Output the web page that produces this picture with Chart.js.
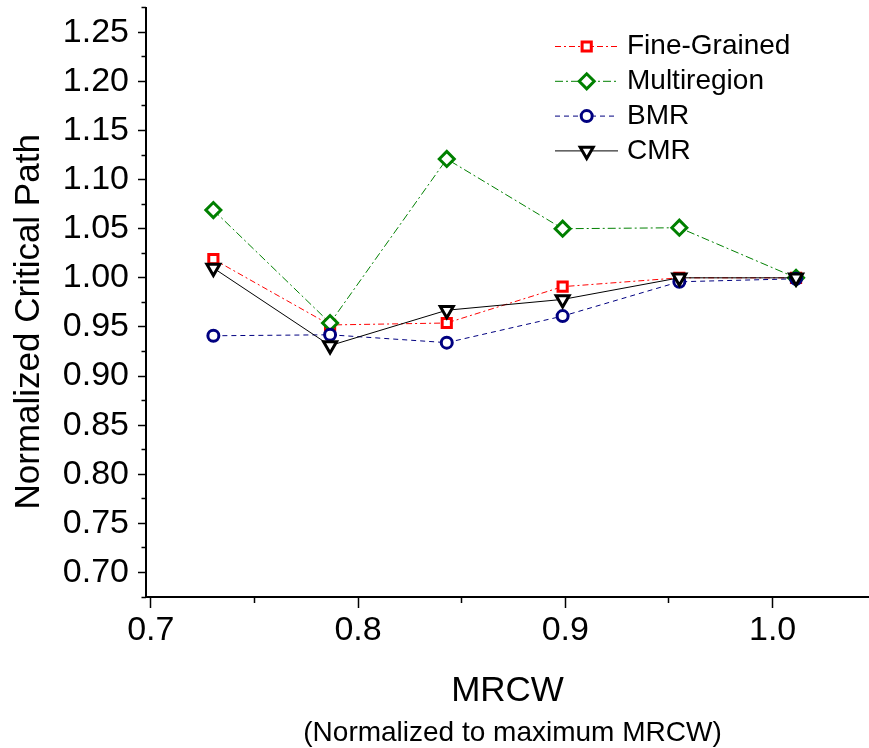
<!DOCTYPE html>
<html lang="en">
<head>
    <meta charset="UTF-8">
    <title>Normalized Critical Path vs MRCW</title>
    <script src="https://cdn.jsdelivr.net/npm/chart.js@4/dist/chart.umd.min.js"></script>
    <style>
        html, body { margin: 0; padding: 0; background: #fff; }
        #wrap { position: relative; width: 869px; height: 748px; }
    </style>
</head>
<body>
<div id="wrap"><canvas id="chart"></canvas></div>
<script>
// values
const mrcw        = [0.7302, 0.7865, 0.8428, 0.8987, 0.9550, 1.0113];
const fineGrained = [1.019, 0.952, 0.954, 0.991, 1.000, 1.000];
const multiregion = [1.069, 0.954, 1.121, 1.050, 1.051, 1.000];
const bmr         = [0.941, 0.942, 0.934, 0.961, 0.996, 0.999];
const cmr         = [1.010, 0.931, 0.967, 0.978, 1.000, 1.000];

const seriesNames = ['Fine-Grained', 'Multiregion', 'BMR', 'CMR'];

const xMajorTicks = [0.7, 0.8, 0.9, 1.0];
const xMinorTicks = [0.75, 0.85, 0.95];
const yMajorTicks = [0.70, 0.75, 0.80, 0.85, 0.90, 0.95, 1.00, 1.05, 1.10, 1.15, 1.20, 1.25];
const yMinorTicks = [0.675, 0.725, 0.775, 0.825, 0.875, 0.925, 0.975, 1.025, 1.075, 1.125, 1.175, 1.225, 1.275];

const FONT = "'Liberation Sans', Arial, sans-serif";
const X_MIN = 0.6977, X_MAX = 1.0465;
const Y_MIN = 0.675, Y_MAX = 1.275;

function pairs(ys) {
    return ys.map((y, i) => ({ x: mrcw[i], y: y }));
}

function series(label, ys, color, dash, style, radius, order, rotation) {
    return {
        label: label,
        data: pairs(ys),
        borderColor: color,
        borderWidth: 1,
        borderDash: dash,
        tension: 0,
        fill: false,
        pointStyle: style,
        pointRadius: radius,
        pointHoverRadius: radius,
        pointRotation: rotation || 0,
        pointBorderWidth: 3,
        pointBorderColor: color,
        pointBackgroundColor: '#fff',
        order: order
    };
}

const datasets = [
    series(seriesNames[0], fineGrained, '#ff0000', [6, 3, 2, 3], 'rect', 6.5, 4),
    series(seriesNames[1], multiregion, '#008000', [8, 3, 2, 3], 'rectRot', 7.5, 3),
    series(seriesNames[2], bmr, '#000080', [5, 4], 'circle', 5.5, 2),
    series(seriesNames[3], cmr, '#000000', [], 'triangle', 7.5, 1, 180)
];

const setTicks = list => scale => { scale.ticks = list.map(v => ({ value: v })); };

// legend drawn with line sample + marker, like the original
const lineLegend = {
    id: 'lineLegend',
    afterDraw(chart) {
        const ctx = chart.ctx;
        chart.data.datasets.forEach((ds, i) => {
            const y = 46.5 + i * 34.8;
            ctx.save();
            ctx.strokeStyle = ds.borderColor;
            ctx.lineWidth = ds.borderWidth;
            ctx.setLineDash(ds.borderDash);
            ctx.beginPath();
            ctx.moveTo(555, y);
            ctx.lineTo(618, y);
            ctx.stroke();
            ctx.setLineDash([]);
            ctx.fillStyle = '#fff';
            ctx.lineWidth = ds.pointBorderWidth;
            Chart.helpers.drawPoint(ctx, {
                pointStyle: ds.pointStyle,
                radius: ds.pointRadius,
                rotation: ds.pointRotation,
                borderWidth: ds.pointBorderWidth
            }, 586.7, y);
            ctx.fillStyle = '#000';
            ctx.font = '28px ' + FONT;
            ctx.textAlign = 'left';
            ctx.textBaseline = 'middle';
            ctx.fillText(ds.label, 627, y);
            ctx.restore();
        });
    }
};

// second line of the x axis title, in a smaller font
const xSubtitle = {
    id: 'xSubtitle',
    afterDraw(chart) {
        const ctx = chart.ctx;
        const sx = chart.scales.x;
        ctx.save();
        ctx.fillStyle = '#000';
        ctx.font = '28px ' + FONT;
        ctx.textAlign = 'center';
        ctx.textBaseline = 'alphabetic';
        ctx.fillText('(Normalized to maximum MRCW)', (sx.left + sx.right) / 2 + 5, 741);
        ctx.restore();
    }
};

new Chart(document.getElementById('chart').getContext('2d'), {
    type: 'line',
    data: { datasets: datasets },
    plugins: [lineLegend, xSubtitle],
    options: {
        responsive: true,
        maintainAspectRatio: false,
        animation: false,
        layout: { autoPadding: false, padding: { top: 7.75, left: 0, right: 0, bottom: 0 } },
        plugins: {
            legend: { display: false },
            tooltip: { enabled: false }
        },
        scales: {
            x: {
                type: 'linear',
                position: 'bottom',
                weight: 1,
                min: X_MIN,
                max: X_MAX,
                afterBuildTicks: setTicks(xMajorTicks),
                ticks: {
                    autoSkip: false,
                    maxRotation: 0,
                    padding: 2,
                    color: '#000',
                    font: { family: FONT, size: 34 },
                    callback: v => v.toFixed(1)
                },
                grid: { drawOnChartArea: false, drawTicks: true, tickLength: 11, tickWidth: 1.5, tickColor: '#000' },
                border: { display: true, color: '#000', width: 2 },
                title: {
                    display: true,
                    text: 'MRCW',
                    color: '#000',
                    font: { family: FONT, size: 35 },
                    padding: { top: 0, bottom: 36 }
                },
                afterFit: s => { s.height = 151; s.paddingLeft = 0; s.paddingRight = 0; }
            },
            xMinor: {
                type: 'linear',
                axis: 'x',
                position: 'bottom',
                weight: 0,
                min: X_MIN,
                max: X_MAX,
                afterBuildTicks: setTicks(xMinorTicks),
                ticks: { display: false, autoSkip: false },
                grid: { drawOnChartArea: false, drawTicks: true, tickLength: 6, tickWidth: 1.5, tickColor: '#000' },
                border: { display: false },
                afterFit: s => { s.height = 0; s.paddingLeft = 0; s.paddingRight = 0; }
            },
            y: {
                type: 'linear',
                position: 'left',
                weight: 1,
                min: Y_MIN,
                max: Y_MAX,
                afterBuildTicks: setTicks(yMajorTicks),
                ticks: {
                    autoSkip: false,
                    padding: 9,
                    color: '#000',
                    font: { family: FONT, size: 34 },
                    callback: v => v.toFixed(2)
                },
                grid: { drawOnChartArea: false, drawTicks: true, tickLength: 8, tickWidth: 1.5, tickColor: '#000' },
                border: { display: true, color: '#000', width: 2 },
                title: {
                    display: true,
                    text: 'Normalized Critical Path    ',
                    color: '#000',
                    font: { family: FONT, size: 35 },
                    padding: { top: 8.6, bottom: 0 }
                },
                afterFit: s => { s.width = 146; s.paddingTop = 0; s.paddingBottom = 0; }
            },
            yMinor: {
                type: 'linear',
                axis: 'y',
                position: 'left',
                weight: 0,
                min: Y_MIN,
                max: Y_MAX,
                afterBuildTicks: setTicks(yMinorTicks),
                ticks: { display: false, autoSkip: false },
                grid: { drawOnChartArea: false, drawTicks: true, tickLength: 4.5, tickWidth: 1.5, tickColor: '#000' },
                border: { display: false },
                afterFit: s => { s.width = 0; s.paddingTop = 0; s.paddingBottom = 0; }
            }
        }
    }
});
</script>
</body>
</html>
